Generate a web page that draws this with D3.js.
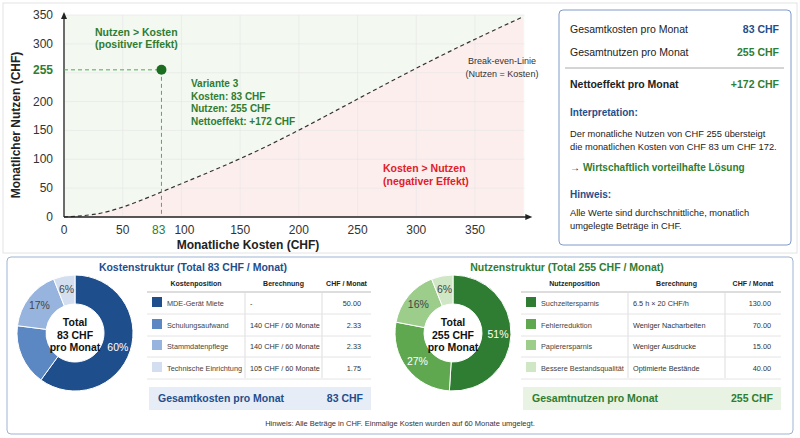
<!DOCTYPE html>
<html>
<head>
<meta charset="utf-8">
<script src="https://d3js.org/d3.v7.min.js"></script>
<style>
  body { margin: 0; background: #fff; font-family: "Liberation Sans", Arial, sans-serif; }
  svg text { font-family: "Liberation Sans", Arial, sans-serif; }
</style>
</head>
<body>
<svg id="chart" width="800" height="438"></svg>
<script>
// break-even curve (Kosten, Nutzen)
var curveX = [0, 25, 50, 100, 167, 244, 320, 391];
var curveY = [0, 3, 15, 58, 114, 198, 280, 347];
var xTicks = [0, 50, 100, 150, 200, 250, 300, 350];
var yTicks = [0, 50, 100, 150, 200, 300, 350];
var gridY = [0, 50, 100, 150, 200, 250, 300, 350];
var pointX = 83, pointY = 255;

var kostenNames = ["MDE-Gerät Miete", "Schulungsaufwand", "Stammdatenpflege", "Technische Einrichtung"];
var kostenCalc = ["-", "140 CHF / 60 Monate", "140 CHF / 60 Monate", "105 CHF / 60 Monate"];
var kostenValues = ["50.00", "2.33", "2.33", "1.75"];
var kostenShares = [60, 17, 17, 6];
var kostenLabels = ["60%", "", "17%", "6%"];
var kostenColors = ["#1f4e8c", "#5b87c2", "#97b4df", "#d3dff1"];

var nutzenNames = ["Suchzeitersparnis", "Fehlerreduktion", "Papierersparnis", "Bessere Bestandsqualität"];
var nutzenCalc = ["6.5 h × 20 CHF/h", "Weniger Nacharbeiten", "Weniger Ausdrucke", "Optimierte Bestände"];
var nutzenValues = ["130.00", "70.00", "15.00", "40.00"];
var nutzenShares = [51, 27, 16, 6];
var nutzenLabels = ["51%", "27%", "16%", "6%"];
var nutzenColors = ["#2e7d32", "#5fa84f", "#9ccd8b", "#cfe7c4"];

var svg = d3.select("#chart");
var blue = "#1f4e8c", green = "#2e7d32", red = "#e0202a";

// ---------- top scatter ----------
var x = d3.scaleLinear().domain([0, 350]).range([64, 475]);
var y = d3.scaleLinear().domain([0, 350]).range([217, 15]);
var xMax = 392, yMax = 350;
var pts = curveX.map((d, i) => [d, curveY[i]]);

svg.append("rect").attr("x", 3).attr("y", 3).attr("width", 794).attr("height", 250)
   .attr("fill", "none").attr("stroke", "#e4e4e4");

svg.append("rect").attr("x", x(0)).attr("y", y(yMax)).attr("width", x(xMax) - x(0))
   .attr("height", y(0) - y(yMax)).attr("fill", "#f3f8f1");
var area = d3.area().x(d => x(d[0])).y0(y(0)).y1(d => y(d[1])).curve(d3.curveBasis);
svg.append("path").datum(pts).attr("d", area).attr("fill", "#fdeeee");

var grid = svg.append("g");
xTicks.forEach(t => grid.append("line").attr("x1", x(t)).attr("x2", x(t)).attr("y1", y(0)).attr("y2", y(yMax))
  .attr("stroke", "#e6e6e6").attr("stroke-width", 0.6));
gridY.forEach(t => grid.append("line").attr("x1", x(0)).attr("x2", x(xMax)).attr("y1", y(t)).attr("y2", y(t))
  .attr("stroke", "#e6e6e6").attr("stroke-width", 0.6));

var line = d3.line().x(d => x(d[0])).y(d => y(d[1])).curve(d3.curveBasis);
svg.append("path").datum(pts).attr("d", line).attr("fill", "none")
   .attr("stroke", "#333").attr("stroke-width", 1.2).attr("stroke-dasharray", "4,3");

// axes
svg.append("line").attr("x1", x(0)).attr("x2", x(xMax) + 4).attr("y1", y(0)).attr("y2", y(0)).attr("stroke", "#222").attr("stroke-width", 1.3);
svg.append("line").attr("x1", x(0)).attr("x2", x(0)).attr("y1", y(0)).attr("y2", y(yMax) - 1).attr("stroke", "#222").attr("stroke-width", 1.3);
svg.append("path").attr("d", `M${x(xMax) + 8},${y(0)} l-7,-3 v6 z`).attr("fill", "#222");
svg.append("path").attr("d", `M${x(0)},${y(yMax) - 3} l-3,7 h6 z`).attr("fill", "#222");

xTicks.forEach(t => svg.append("text").attr("x", x(t) + (t === 100 ? 3 : 0)).attr("y", 234).attr("text-anchor", "middle")
  .attr("font-size", 12).attr("fill", "#333").text(t));
yTicks.forEach(t => svg.append("text").attr("x", 53).attr("y", y(t) + 4).attr("text-anchor", "end")
  .attr("font-size", 12).attr("fill", "#333").text(t));
svg.append("text").attr("x", x(pointX)).attr("y", 234).attr("text-anchor", "end").attr("dx", 4)
   .attr("font-size", 12).attr("fill", green).text(pointX);
svg.append("text").attr("x", 53).attr("y", y(pointY) + 4).attr("text-anchor", "end")
   .attr("font-size", 12).attr("fill", green).attr("font-weight", "bold").text(pointY);

svg.append("text").attr("x", 248).attr("y", 249).attr("text-anchor", "middle").attr("font-size", 12)
   .attr("font-weight", "bold").attr("fill", "#222").text("Monatliche Kosten (CHF)");
svg.append("text").attr("transform", "translate(20,125) rotate(-90)").attr("text-anchor", "middle").attr("font-size", 12)
   .attr("font-weight", "bold").attr("fill", "#222").text("Monatlicher Nutzen (CHF)");

// point + guides
svg.append("line").attr("x1", x(0)).attr("x2", x(pointX)).attr("y1", y(pointY)).attr("y2", y(pointY))
   .attr("stroke", "#4caf50").attr("stroke-dasharray", "4,3");
svg.append("line").attr("x1", x(pointX)).attr("x2", x(pointX)).attr("y1", y(pointY)).attr("y2", y(0))
   .attr("stroke", "#4caf50").attr("stroke-dasharray", "4,3");
svg.append("circle").attr("cx", x(pointX)).attr("cy", y(pointY)).attr("r", 5).attr("fill", "#1b6e20");

var ann = ["Variante 3", "Kosten: 83 CHF", "Nutzen: 255 CHF", "Nettoeffekt: +172 CHF"];
ann.forEach((t, i) => svg.append("text").attr("x", 191).attr("y", 87 + i * 12.5).attr("font-size", 10)
  .attr("font-weight", "bold").attr("fill", green).text(t));
[["Nutzen > Kosten", 36], ["(positiver Effekt)", 48]].forEach(a => svg.append("text").attr("x", 95).attr("y", a[1])
  .attr("font-size", 10.5).attr("font-weight", "bold").attr("fill", green).text(a[0]));
[["Kosten > Nutzen", 172], ["(negativer Effekt)", 185]].forEach(a => svg.append("text").attr("x", 383).attr("y", a[1])
  .attr("font-size", 10.5).attr("font-weight", "bold").attr("fill", red).text(a[0]));
[["Break-even-Linie", 64], ["(Nutzen = Kosten)", 77]].forEach(a => svg.append("text").attr("x", 502).attr("y", a[1])
  .attr("text-anchor", "middle").attr("font-size", 9).attr("fill", "#333").text(a[0]));

// ---------- info panel ----------
svg.append("rect").attr("x", 559).attr("y", 10).attr("width", 232).attr("height", 235).attr("rx", 4)
   .attr("fill", "#fff").attr("stroke", "#7f9cc8");
var px = 570, pr = 779;
function txt(xx, yy, t, o) {
  o = o || {};
  return svg.append("text").attr("x", xx).attr("y", yy).attr("font-size", o.s || 10)
    .attr("font-weight", o.b ? "bold" : "normal").attr("fill", o.c || "#222")
    .attr("text-anchor", o.a || "start").text(t);
}
txt(px, 33, "Gesamtkosten pro Monat", { s: 10.5 });
txt(pr, 33, "83 CHF", { s: 10.5, b: 1, c: blue, a: "end" });
txt(px, 56, "Gesamtnutzen pro Monat", { s: 10.5 });
txt(pr, 56, "255 CHF", { s: 10.5, b: 1, c: green, a: "end" });
svg.append("line").attr("x1", 565).attr("x2", 784).attr("y1", 68).attr("y2", 68).attr("stroke", "#aaa");
txt(px, 88, "Nettoeffekt pro Monat", { s: 10.5, b: 1 });
txt(pr, 88, "+172 CHF", { s: 10.5, b: 1, c: green, a: "end" });
txt(px, 116, "Interpretation:", { b: 1, c: blue });
txt(px, 137, "Der monatliche Nutzen von CHF 255 übersteigt", { s: 9.3 });
txt(px, 150, "die monatlichen Kosten von CHF 83 um CHF 172.", { s: 9.3 });
txt(px, 171, "→ ", { s: 10 });
txt(px + 13, 171, "Wirtschaftlich vorteilhafte Lösung", { s: 10, b: 1, c: green });
txt(px, 198, "Hinweis:", { b: 1, c: blue });
txt(px, 216, "Alle Werte sind durchschnittliche, monatlich", { s: 9.3 });
txt(px, 229, "umgelegte Beträge in CHF.", { s: 9.3 });

// ---------- bottom panel ----------
svg.append("rect").attr("x", 7).attr("y", 257).attr("width", 786).attr("height", 177).attr("rx", 4)
   .attr("fill", "#fff").attr("stroke", "#9db3d4");

function donut(cx, cy, shares, labels, colors, lines) {
  var pie = d3.pie().sort(null)(shares);
  var arc = d3.arc().innerRadius(29).outerRadius(58);
  var lab = d3.arc().innerRadius(45).outerRadius(45);
  var g = svg.append("g").attr("transform", `translate(${cx},${cy})`);
  g.selectAll("path").data(pie).join("path").attr("d", arc).attr("fill", (d, i) => colors[i])
   .attr("stroke", "#fff").attr("stroke-width", 1);
  g.selectAll("text.l").data(pie).join("text").attr("class", "l")
   .attr("transform", d => `translate(${lab.centroid(d)})`).attr("dy", 4).attr("text-anchor", "middle")
   .attr("font-size", 10.5).attr("fill", (d, i) => i < 2 ? "#fff" : "#444").text((d, i) => labels[i]);
  lines.forEach((t, i) => g.append("text").attr("y", -11 + i * 12.5).attr("dy", 4).attr("text-anchor", "middle")
   .attr("font-size", 10.5).attr("font-weight", "bold").attr("fill", "#111").text(t));
}

function table(x0, x1, c1, c2, head, names, calc, vals, colors, totalLabel, totalVal, col, bg) {
  var hy = 286, rows = [303, 325, 346, 368];
  txt((x0 + c1) / 2, hy, head, { s: 7, b: 1, a: "middle" });
  txt((c1 + c2) / 2, hy, "Berechnung", { s: 7, b: 1, a: "middle" });
  txt((c2 + x1) / 2, hy, "CHF / Monat", { s: 7, b: 1, a: "middle" });
  svg.append("line").attr("x1", x0).attr("x2", x1).attr("y1", 292).attr("y2", 292).attr("stroke", "#bbb").attr("stroke-width", 1.2);
  [c1, c2].forEach(c => svg.append("line").attr("x1", c).attr("x2", c).attr("y1", 292).attr("y2", 378).attr("stroke", "#ddd"));
  names.forEach((n, i) => {
    var ry = rows[i];
    svg.append("rect").attr("x", x0 + 5).attr("y", ry - 6).attr("width", 10).attr("height", 10).attr("fill", colors[i]);
    txt(x0 + 20, ry + 3, n, { s: 7.3, c: "#444" });
    txt(c1 + 5, ry + 3, calc[i], { s: 7.3, c: "#333" });
    txt(x1 - 10, ry + 3, vals[i], { s: 7.3, c: "#333", a: "end" });
    svg.append("line").attr("x1", x0).attr("x2", x1).attr("y1", ry + 11).attr("y2", ry + 11).attr("stroke", "#e4e4e4");
  });
  svg.append("rect").attr("x", x0 + 2).attr("y", 387).attr("width", x1 - x0 - 2).attr("height", 23).attr("fill", bg);
  txt(x0 + 11, 402, totalLabel, { s: 10.5, b: 1, c: col });
  txt(x1 - 8, 402, totalVal, { s: 10.5, b: 1, c: col, a: "end" });
}

txt(193, 271, "Kostenstruktur (Total 83 CHF / Monat)", { s: 10.5, b: 1, c: blue, a: "middle" });
donut(75, 333, kostenShares, kostenLabels, kostenColors, ["Total", "83 CHF", "pro Monat"]);
table(147, 371, 245, 322, "Kostenposition", kostenNames, kostenCalc, kostenValues, kostenColors,
  "Gesamtkosten pro Monat", "83 CHF", blue, "#e6edf7");

txt(567, 271, "Nutzenstruktur (Total 255 CHF / Monat)", { s: 10.5, b: 1, c: green, a: "middle" });
donut(453, 333, nutzenShares, nutzenLabels, nutzenColors, ["Total", "255 CHF", "pro Monat"]);
table(521, 781, 628, 725, "Nutzenposition", nutzenNames, nutzenCalc, nutzenValues, nutzenColors,
  "Gesamtnutzen pro Monat", "255 CHF", green, "#e8f3e3");

txt(400, 426, "Hinweis: Alle Beträge in CHF. Einmalige Kosten wurden auf 60 Monate umgelegt.", { s: 7.5, c: "#333", a: "middle" });
</script>
</body>
</html>
